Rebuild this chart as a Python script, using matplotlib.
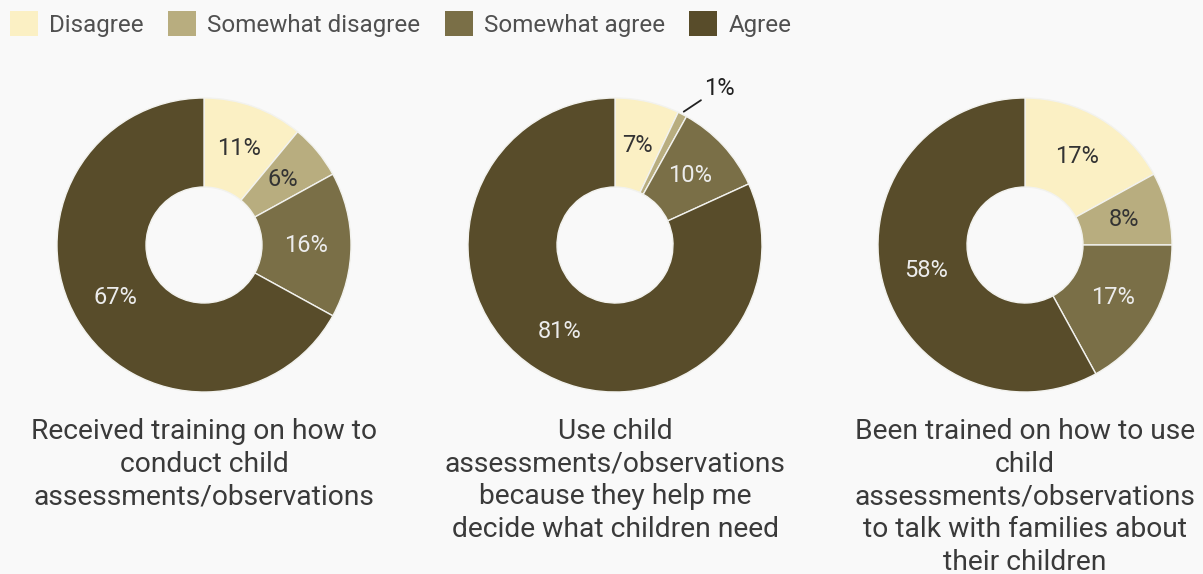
import numpy as np
import matplotlib.pyplot as plt
from matplotlib.patches import Patch

plt.rcParams['font.family'] = ['Roboto', 'DejaVu Sans']

categories = ['Disagree', 'Somewhat disagree', 'Somewhat agree', 'Agree']
colors = ['#fbf0c4', '#b8ad7f', '#7a6f47', '#584c2a']
label_colors = ['#333333', '#333333', '#ececec', '#ececec']

training = [11, 6, 16, 67]
use_help = [7, 1, 10, 81]
families = [17, 8, 17, 58]

titles = [
    'Received training on how to\nconduct child\nassessments/observations',
    'Use child\nassessments/observations\nbecause they help me\ndecide what children need',
    'Been trained on how to use\nchild\nassessments/observations\nto talk with families about\ntheir children',
]
series = [training, use_help, families]

W, H = 1203, 574
bg = '#f9f9f9'
fig = plt.figure(figsize=(W / 100, H / 100), dpi=100, facecolor=bg)
ax = fig.add_axes([0, 0, 1, 1])
ax.set_facecolor(bg)

centers_x = [204, 615, 1025]
cy = H - 245
r_out, r_in = 147, 58

for cx, vals, title in zip(centers_x, series, titles):
    wedges, _ = ax.pie(vals, colors=colors, startangle=90, counterclock=False,
                       center=(cx, cy), radius=r_out,
                       wedgeprops=dict(width=r_out - r_in, edgecolor='#f2f2ee', linewidth=1))
    for w, v, tc in zip(wedges, vals, label_colors):
        mid = np.deg2rad((w.theta1 + w.theta2) / 2)
        if v < 3:
            # tiny slice: label outside with a leader line
            x0 = cx + (r_out + 3) * np.cos(mid)
            y0 = cy + (r_out + 3) * np.sin(mid)
            ax.annotate(f'{v}%', xy=(x0, y0), xytext=(x0 + 20, y0 + 12),
                        fontsize=17, color='#222222', ha='left', va='bottom',
                        arrowprops=dict(arrowstyle='-', color='#222222', lw=1.3,
                                        shrinkA=0, shrinkB=0))
            continue
        rl = (r_out + r_in) / 2
        ax.text(cx + rl * np.cos(mid), cy + rl * np.sin(mid), f'{v}%',
                ha='center', va='center', fontsize=17, color=tc)
    ax.text(cx, H - 418, title, ha='center', va='top', fontsize=20.3,
            color='#3a3a3a', linespacing=1.27)

ax.set_xlim(0, W)
ax.set_ylim(0, H)
ax.set_aspect('equal')
ax.axis('off')

handles = [Patch(facecolor=c, edgecolor='none', label=l) for c, l in zip(colors, categories)]
fig.legend(handles=handles, loc='upper left', bbox_to_anchor=(0.0, 0.997), ncol=4,
           frameon=False, fontsize=17.4, handlelength=1.17, handleheight=1.17,
           handletextpad=0.46, columnspacing=1.0, labelcolor='#505050',
           borderaxespad=0.2, borderpad=0.2)

fig.savefig('out.png', dpi=100, facecolor=bg)
